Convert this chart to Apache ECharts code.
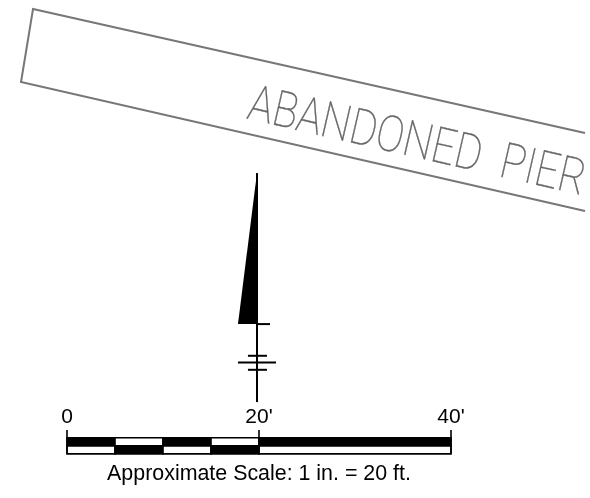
<!DOCTYPE html>
<html><head><meta charset="utf-8">
<style>html,body{margin:0;padding:0;background:#fff}#c{width:590px;height:498px}</style>
<script src="https://cdn.jsdelivr.net/npm/echarts@6/dist/echarts.min.js"></script>
</head><body><div id="c"></div>
<script>
// All values are in feet on the drawing's scale (20 ft = 192 px)
const pierOutline = [[53.96,33.41],[-3.54,46.32],[-4.79,38.72],[53.96,25.28]];
const pierLabel = {text:'ABANDONED  PIER', at:[36.4,32.2]};
const northArrowHead = [[19.79,29.24],[19.79,13.51],[17.81,13.51]];
const northStem = [[19.79,29.24],[19.79,5.39]];
const northTicks = [
  [[19.79,13.51],[21.15,13.51]],
  [[18.85,10.21],[20.83,10.21]],
  [[17.81,9.52],[21.77,9.52]],
  [[18.85,8.75],[20.83,8.75]]
];
const barBreaks = [0,5,10,15,20,40];
const barTop = 1.67, barMid = 0.83, barBottom = 0, tickTop = 2.47;
const tickFeet = [0,20,40];
const tickLabels = ['0',"20'","40'"];
const caption = 'Approximate Scale: 1 in. = 20 ft.';

const lineSeries = (data,color,width)=>({type:'line',data,showSymbol:false,silent:true,animation:false,clip:false,
  lineStyle:{color,width,cap:'butt',join:'miter'},z:3});

const chart = echarts.init(document.getElementById('c'),null,{renderer:'canvas'});
const segments = [];
for(let i=0;i<barBreaks.length-1;i++){
  const a=barBreaks[i], b=barBreaks[i+1];
  const topBlack = i%2===0;
  segments.push([a,b,barMid,barTop,topBlack?1:0]);
  segments.push([a,b,barBottom,barMid,topBlack?0:1]);
}
chart.setOption({
  animation:false,
  backgroundColor:'#fff',
  grid:{left:0,right:0,top:0,bottom:0},
  xAxis:{type:'value',min:-6.979,max:54.479,show:false},
  yAxis:{type:'value',min:-4.6,max:47.26,show:false},
  series:[
    lineSeries(pierOutline,'#777777',2),
    {type:'custom',silent:true,animation:false,data:[0],z:2,
     renderItem:(p,api)=>{
       const c=api.coord(pierLabel.at);
       return {type:'text',x:c[0],y:c[1],rotation:-0.225,scaleX:0.9,scaleY:1.08,
         style:{text:pierLabel.text,fill:'#666666',stroke:'#777777',lineWidth:0.4,font:'100 46px "Roboto"',align:'center',verticalAlign:'middle'}};
     }},
    {type:'custom',silent:true,animation:false,data:[0],z:3,
     renderItem:(p,api)=>({type:'polygon',shape:{points:northArrowHead.map(q=>api.coord(q))},style:{fill:'#000'}})},
    lineSeries(northStem,'#000',2),
    ...northTicks.map(t=>lineSeries(t,'#000',2)),
    {type:'custom',silent:true,animation:false,data:segments,z:3,
     encode:{x:[0,1],y:[2,3]},
     renderItem:(p,api)=>{
       const a=api.coord([api.value(0),api.value(3)]), b=api.coord([api.value(1),api.value(2)]);
       return {type:'rect',shape:{x:a[0],y:a[1],width:b[0]-a[0],height:b[1]-a[1]},
         style:{fill:api.value(4)?'#000':'#fff',stroke:'#000',lineWidth:1.6}};
     }},
    ...tickFeet.map(x=>lineSeries([[x,barBottom],[x,tickTop]],'#000',1.6)),
    {type:'custom',silent:true,animation:false,data:tickFeet,z:4,
     renderItem:(p,api)=>{
       const c=api.coord([tickFeet[p.dataIndex],tickTop]);
       return {type:'text',x:c[0],y:c[1]-13,style:{text:tickLabels[p.dataIndex],fill:'#000',font:'21px "Liberation Sans"',align:'center',verticalAlign:'middle'}};
     }},
    {type:'custom',silent:true,animation:false,data:[0],z:4,
     renderItem:(p,api)=>{
       const c=api.coord([20,-2.1]);
       return {type:'text',x:c[0],y:c[1],style:{text:caption,fill:'#000',font:'21.4px "Liberation Sans"',align:'center',verticalAlign:'middle'}};
     }}
  ]
});
</script></body></html>
